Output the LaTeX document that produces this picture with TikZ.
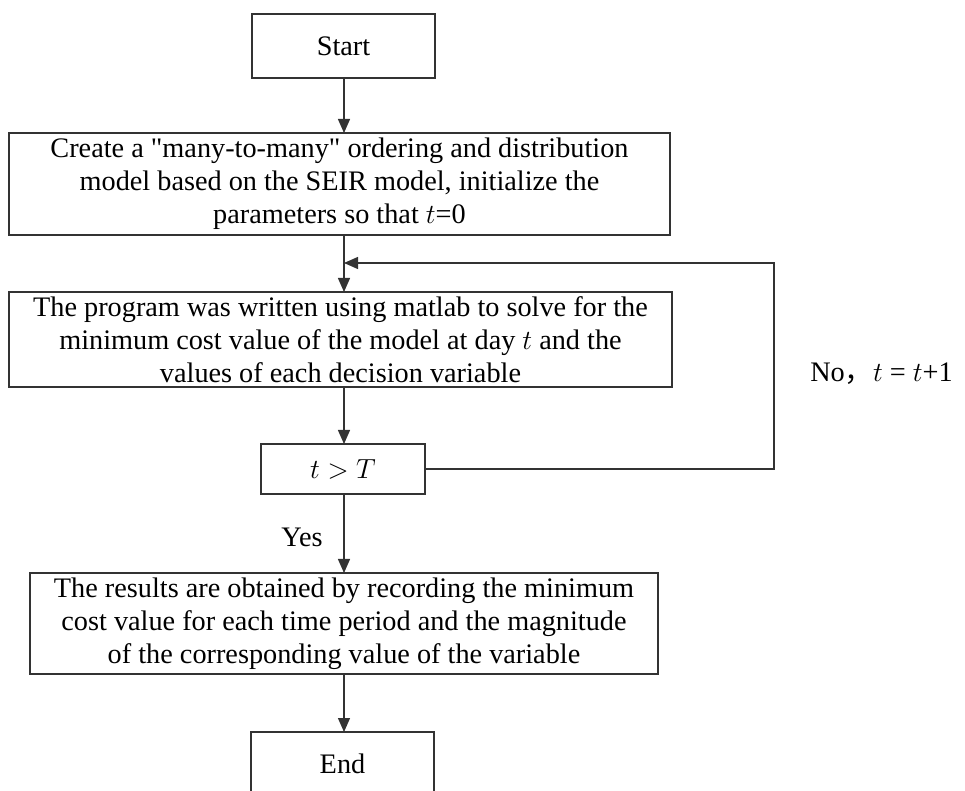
\documentclass[tikz,border=0pt]{standalone}
\usepackage{fontspec}
\setmainfont{Liberation Serif}[Ligatures=TeXOff]
\newfontfamily\cjk{Noto Sans CJK SC}
\usetikzlibrary{arrows.meta}
\definecolor{linec}{HTML}{333333}
\begin{document}
\begin{tikzpicture}[x=0.75pt,y=-0.75pt,
  font=\fontsize{21.2}{24.75}\selectfont,
  box/.style={draw=linec,line width=1pt,align=center,inner sep=0pt,
    minimum width=#1},
  arr/.style={draw=linec,line width=1pt,-{Triangle[length=10.5pt,width=9pt]}},
  lbl/.style={inner sep=0pt}]
\useasboundingbox (0,0) rectangle (965,791);
\node[box=183*0.75pt, minimum height=64*0.75pt] (start) at (343.5,46) {Start};
\node[box=661*0.75pt, minimum height=102*0.75pt] (b2) at (339.5,184)
  {Create a "many-to-many" ordering and distribution\\
   model based on the SEIR model, initialize the\\
   parameters so that $t$=0};
\node[box=663*0.75pt, minimum height=95*0.75pt] (b3) at (340.5,339.5)
  {The program was written using matlab to solve for the\\
   minimum cost value of the model at day $t$ and the\\
   values of each decision variable};
\node[box=164*0.75pt, minimum height=50*0.75pt] (b4) at (343,469) {$t>T$};
\node[box=628*0.75pt, minimum height=101*0.75pt] (b5) at (344,623.5)
  {The results are obtained by recording the minimum\\
   cost value for each time period and the magnitude\\
   of the corresponding value of the variable};
\node[box=183*0.75pt, minimum height=64*0.75pt] (end) at (342.5,764) {End};
\coordinate (merge) at (344,263);
\coordinate (lx) at (774,263);
\coordinate (top2) at (344,133);
\coordinate (bot2) at (344,235);
\coordinate (top3) at (344,292);
\coordinate (bot3) at (344,387);
\coordinate (top4) at (344,444);
\coordinate (bot4) at (344,494);
\coordinate (top5) at (344,573);
\coordinate (bot5) at (344,674);
\coordinate (top6) at (344,732);
\coordinate (bot1) at (344,78);
\draw[arr] (bot1) -- (top2);
\draw[arr] (bot2) -- (top3);
\draw[arr] (bot3) -- (top4);
\draw[arr] (bot4) -- (top5);
\draw[arr] (bot5) -- (top6);
\draw[arr] (b4.east) -| (lx) -- (merge);
\node[lbl] (yes) at (302,537) {Yes};
\node[lbl,anchor=west] (no) at (810,374) {No{\cjk ，}$t$ = $t$+1};
\end{tikzpicture}
\end{document}
